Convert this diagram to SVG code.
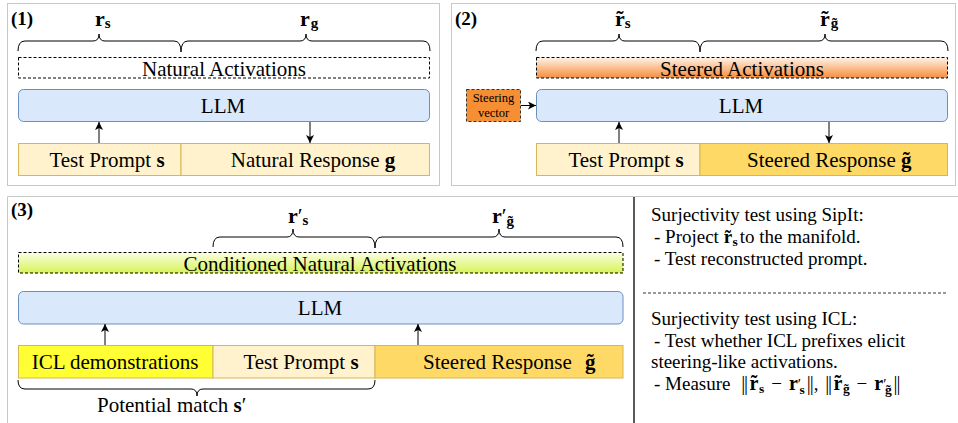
<svg xmlns="http://www.w3.org/2000/svg" width="958" height="423" viewBox="0 0 958 423">
<style>
.t{font-family:"Liberation Serif","Times New Roman",serif;fill:#000}
.lb{font-size:21px}
.m{font-weight:bold}
.n{font-weight:normal}
.pan{fill:none;stroke:#c8c8c8;stroke-width:1}
.br{fill:none;stroke:#000;stroke-width:1}
.ds{stroke:#000;stroke-width:1;stroke-dasharray:3 2}
.llm{fill:#dae8fc;stroke:#6c8ebf;stroke-width:1}
.tp{fill:#fff2cc;stroke:#d6b656;stroke-width:1}
.sr{fill:#ffd966;stroke:#d6b656;stroke-width:1}
.arr{fill:none;stroke:#000;stroke-width:1;marker-end:url(#ah)}
.rt{font-size:19px}
.sb{font-size:13.5px;font-weight:bold}
.mr{font-size:20px;font-weight:bold}
</style>
<defs>
<marker id="ah" markerWidth="9" markerHeight="8" refX="8" refY="4" orient="auto" markerUnits="userSpaceOnUse">
<path d="M0,0 L8,4 L0,8 L2,4 Z" fill="#000"/>
</marker>
<linearGradient id="gOr" x1="0" y1="0" x2="0" y2="1"><stop offset="0" stop-color="#fff3e8"/><stop offset="1" stop-color="#f78d3c"/></linearGradient>
<linearGradient id="gGr" x1="0" y1="0" x2="0" y2="1"><stop offset="0" stop-color="#fbffe2"/><stop offset="1" stop-color="#d6f257"/></linearGradient>
</defs>

<!-- panel frames -->
<g id="frames">
<rect class="pan" x="7.5" y="3.5" width="432" height="182"/>
<rect class="pan" x="451.5" y="3.5" width="504" height="182"/>
<path class="pan" d="M7.5,423 L7.5,196.5 L958,196.5"/>
<line x1="634" y1="197" x2="634" y2="423" stroke="#222" stroke-width="1.5"/>
</g>

<!-- Panel 1 -->
<g id="panel1">
<text class="t m" x="11" y="25" font-size="19">(1)</text>
<g id="p1-braces">
<path class="br" d="M18,51 Q18,41 25,41 L93,41 Q99,41 99,34 Q99,41 105,41 L174,41 Q181,41 181,52"/>
<path class="br" d="M181,52 Q181,41 188,41 L300,41 Q306,41 306,34 Q306,41 312,41 L423,41 Q430,41 430,51"/>
<text class="t m" x="95" y="26" font-size="22">r<tspan dy="2" font-size="15">s</tspan></text>
<text class="t m" x="300" y="26" font-size="22">r<tspan dx="1" dy="2" font-size="15">g</tspan></text>
</g>
<g id="p1-act">
<rect class="ds" x="18.5" y="57.5" width="411" height="20.5" fill="none"/>
<text class="t lb" x="224" y="76" text-anchor="middle">Natural Activations</text>
</g>
<g id="p1-llm">
<rect class="llm" x="18.5" y="89.5" width="411" height="32" rx="5"/>
<text class="t lb" x="223" y="113" text-anchor="middle">LLM</text>
</g>
<g id="p1-prompt">
<rect class="tp" x="18.5" y="143.5" width="162.5" height="32"/>
<text class="t lb" x="107" y="167" text-anchor="middle">Test Prompt <tspan class="m">s</tspan></text>
</g>
<g id="p1-resp">
<rect class="tp" x="181" y="143.5" width="248.5" height="32"/>
<text class="t lb" x="313" y="167" text-anchor="middle">Natural Response <tspan class="m">g</tspan></text>
</g>
</g>

<!-- Panel 2 -->
<g id="panel2">
<text class="t m" x="455" y="25" font-size="19">(2)</text>
<g id="p2-braces">
<path class="br" d="M536,51 Q536,41 543,41 L613,41 Q619,41 619,34 Q619,41 625,41 L693,41 Q700,41 700,52"/>
<path class="br" d="M700,52 Q700,41 707,41 L819,41 Q825,41 825,34 Q825,41 831,41 L941,41 Q948,41 948,51"/>
<text class="t m" x="615" y="26" font-size="22">r<tspan dx="-8.55">˜</tspan><tspan dx="1.2" dy="2" font-size="15">s</tspan></text>
<text class="t m" x="820" y="26" font-size="22">r<tspan dx="-8.55">˜</tspan><tspan dx="2.2" dy="2" font-size="15">g</tspan><tspan dx="-6.25" font-size="15">˜</tspan></text>
</g>
<g id="p2-act">
<rect class="ds" x="536.5" y="57.5" width="411" height="20.5" fill="url(#gOr)"/>
<text class="t lb" x="742" y="76" text-anchor="middle">Steered Activations</text>
</g>
<g id="p2-llm">
<rect class="llm" x="536.5" y="89.5" width="411" height="32" rx="5"/>
<text class="t lb" x="741" y="113" text-anchor="middle">LLM</text>
</g>
<g id="p2-steer">
<rect x="466.5" y="89.5" width="54" height="32" fill="#f68e33" stroke="#333" stroke-dasharray="3 2"/>
<text class="t" x="493.5" y="102" font-size="12.5" text-anchor="middle">Steering</text>
<text class="t" x="493.5" y="117" font-size="12.5" text-anchor="middle">vector</text>
</g>
<g id="p2-prompt">
<rect class="tp" x="536.5" y="143.5" width="163.5" height="32"/>
<text class="t lb" x="626" y="167" text-anchor="middle">Test Prompt <tspan class="m">s</tspan></text>
</g>
<g id="p2-resp">
<rect class="sr" x="700" y="143.5" width="247.5" height="32"/>
<text class="t lb" x="747" y="167">Steered Response <tspan class="m">g</tspan><tspan class="m" dx="-8.75">˜</tspan></text>
</g>
</g>

<!-- Panel 3 -->
<g id="panel3">
<text class="t m" x="11" y="216" font-size="19">(3)</text>
<g id="p3-braces">
<path class="br" d="M213,247 Q213,237 220,237 L287,237 Q293,237 293,229 Q293,237 299,237 L368,237 Q375,237 375,248"/>
<path class="br" d="M375,248 Q375,237 382,237 L493,237 Q499,237 499,229 Q499,237 505,237 L616,237 Q623,237 623,247"/>
<text class="t m" x="288" y="223" font-size="22">r<tspan class="n">′</tspan><tspan dy="2" font-size="15">s</tspan></text>
<text class="t m" x="492" y="223" font-size="22">r<tspan class="n">′</tspan><tspan dy="3" font-size="15">g</tspan><tspan dx="-6.25" font-size="15">˜</tspan></text>
</g>
<g id="p3-act">
<rect class="ds" x="18.5" y="252.5" width="604.5" height="20.5" fill="url(#gGr)"/>
<text class="t lb" x="320" y="271" text-anchor="middle">Conditioned Natural Activations</text>
</g>
<g id="p3-llm">
<rect class="llm" x="18.5" y="291.5" width="604.5" height="32.5" rx="5"/>
<text class="t lb" x="320" y="315" text-anchor="middle">LLM</text>
</g>
<g id="p3-icl">
<rect x="18.5" y="345.5" width="194.5" height="32.5" fill="#ffff33" stroke="#d6b656"/>
<text class="t lb" x="115" y="369" text-anchor="middle">ICL demonstrations</text>
</g>
<g id="p3-prompt">
<rect class="tp" x="213" y="345.5" width="162" height="32.5"/>
<text class="t lb" x="301" y="369" text-anchor="middle">Test Prompt <tspan class="m">s</tspan></text>
</g>
<g id="p3-resp">
<rect class="sr" x="375" y="345.5" width="248" height="32.5"/>
<text class="t lb" x="423" y="369">Steered Response <tspan class="m" dx="8">g</tspan><tspan class="m" dx="-8.75">˜</tspan></text>
</g>
<g id="p3-match">
<path class="br" d="M18,380 Q18,389 25,389 L191,389 Q197,389 197,396 Q197,389 203,389 L368,389 Q375,389 375,380"/>
<text class="t lb" x="97" y="412">Potential match  <tspan class="m">s</tspan>′</text>
</g>
</g>

<!-- Connectors -->
<g id="connectors">
<line class="arr" x1="99" y1="143" x2="99" y2="122"/>
<line class="arr" x1="310" y1="122" x2="310" y2="143"/>
<line class="arr" x1="619" y1="143" x2="619" y2="122"/>
<line class="arr" x1="829" y1="122" x2="829" y2="143"/>
<line class="arr" x1="521" y1="105.5" x2="536" y2="105.5"/>
<line class="arr" x1="105" y1="345" x2="105" y2="324"/>
<line class="arr" x1="418" y1="345" x2="418" y2="324"/>
</g>

<!-- Right text panel -->
<g id="notes">
<text class="t rt" x="651" y="221">Surjectivity test using SipIt:</text>
<text class="t rt" x="654" y="243">- Project <tspan class="m">r</tspan><tspan class="m" dx="-7.4">˜</tspan><tspan class="sb" dx="1.5" dy="3">s</tspan><tspan dx="2" dy="-3">to the manifold.</tspan></text>
<text class="t rt" x="654" y="265">- Test reconstructed prompt.</text>
<line x1="643" y1="293" x2="948" y2="293" stroke="#333" stroke-dasharray="3 2"/>
<text class="t rt" x="651" y="325">Surjectivity test using ICL:</text>
<text class="t rt" x="654" y="347">- Test whether ICL prefixes elicit</text>
<text class="t rt" x="651" y="368">steering-like activations.</text>
<text class="t rt" x="654" y="390">- Measure <tspan dx="6" font-size="20">|</tspan><tspan dx="-1.2" font-size="20">|</tspan><tspan class="mr" dx="1.5">r</tspan><tspan class="mr" dx="-7.8">˜</tspan><tspan class="sb" dx="1.6" dy="3">s</tspan><tspan dx="7" dy="-3">−</tspan><tspan class="mr" dx="7">r</tspan><tspan class="n" font-size="15" dy="-1">′</tspan><tspan class="sb" dx="-1.5" dy="5">s</tspan><tspan dx="2" dy="-4" font-size="20">|</tspan><tspan dx="-1.2" font-size="20">|</tspan><tspan>, </tspan><tspan dx="2" font-size="20">|</tspan><tspan dx="-1.2" font-size="20">|</tspan><tspan class="mr" dx="1.5">r</tspan><tspan class="mr" dx="-7.8">˜</tspan><tspan class="sb" dx="1.6" dy="3">g</tspan><tspan class="sb" dx="-5.6">˜</tspan><tspan dx="8" dy="-3">−</tspan><tspan class="mr" dx="7">r</tspan><tspan class="n" font-size="15" dy="-1">′</tspan><tspan class="sb" dx="-1.5" dy="5">g</tspan><tspan class="sb" dx="-5.6">˜</tspan><tspan dx="3" dy="-4" font-size="20">|</tspan><tspan dx="-1.2" font-size="20">|</tspan></text>
</g>
</svg>
